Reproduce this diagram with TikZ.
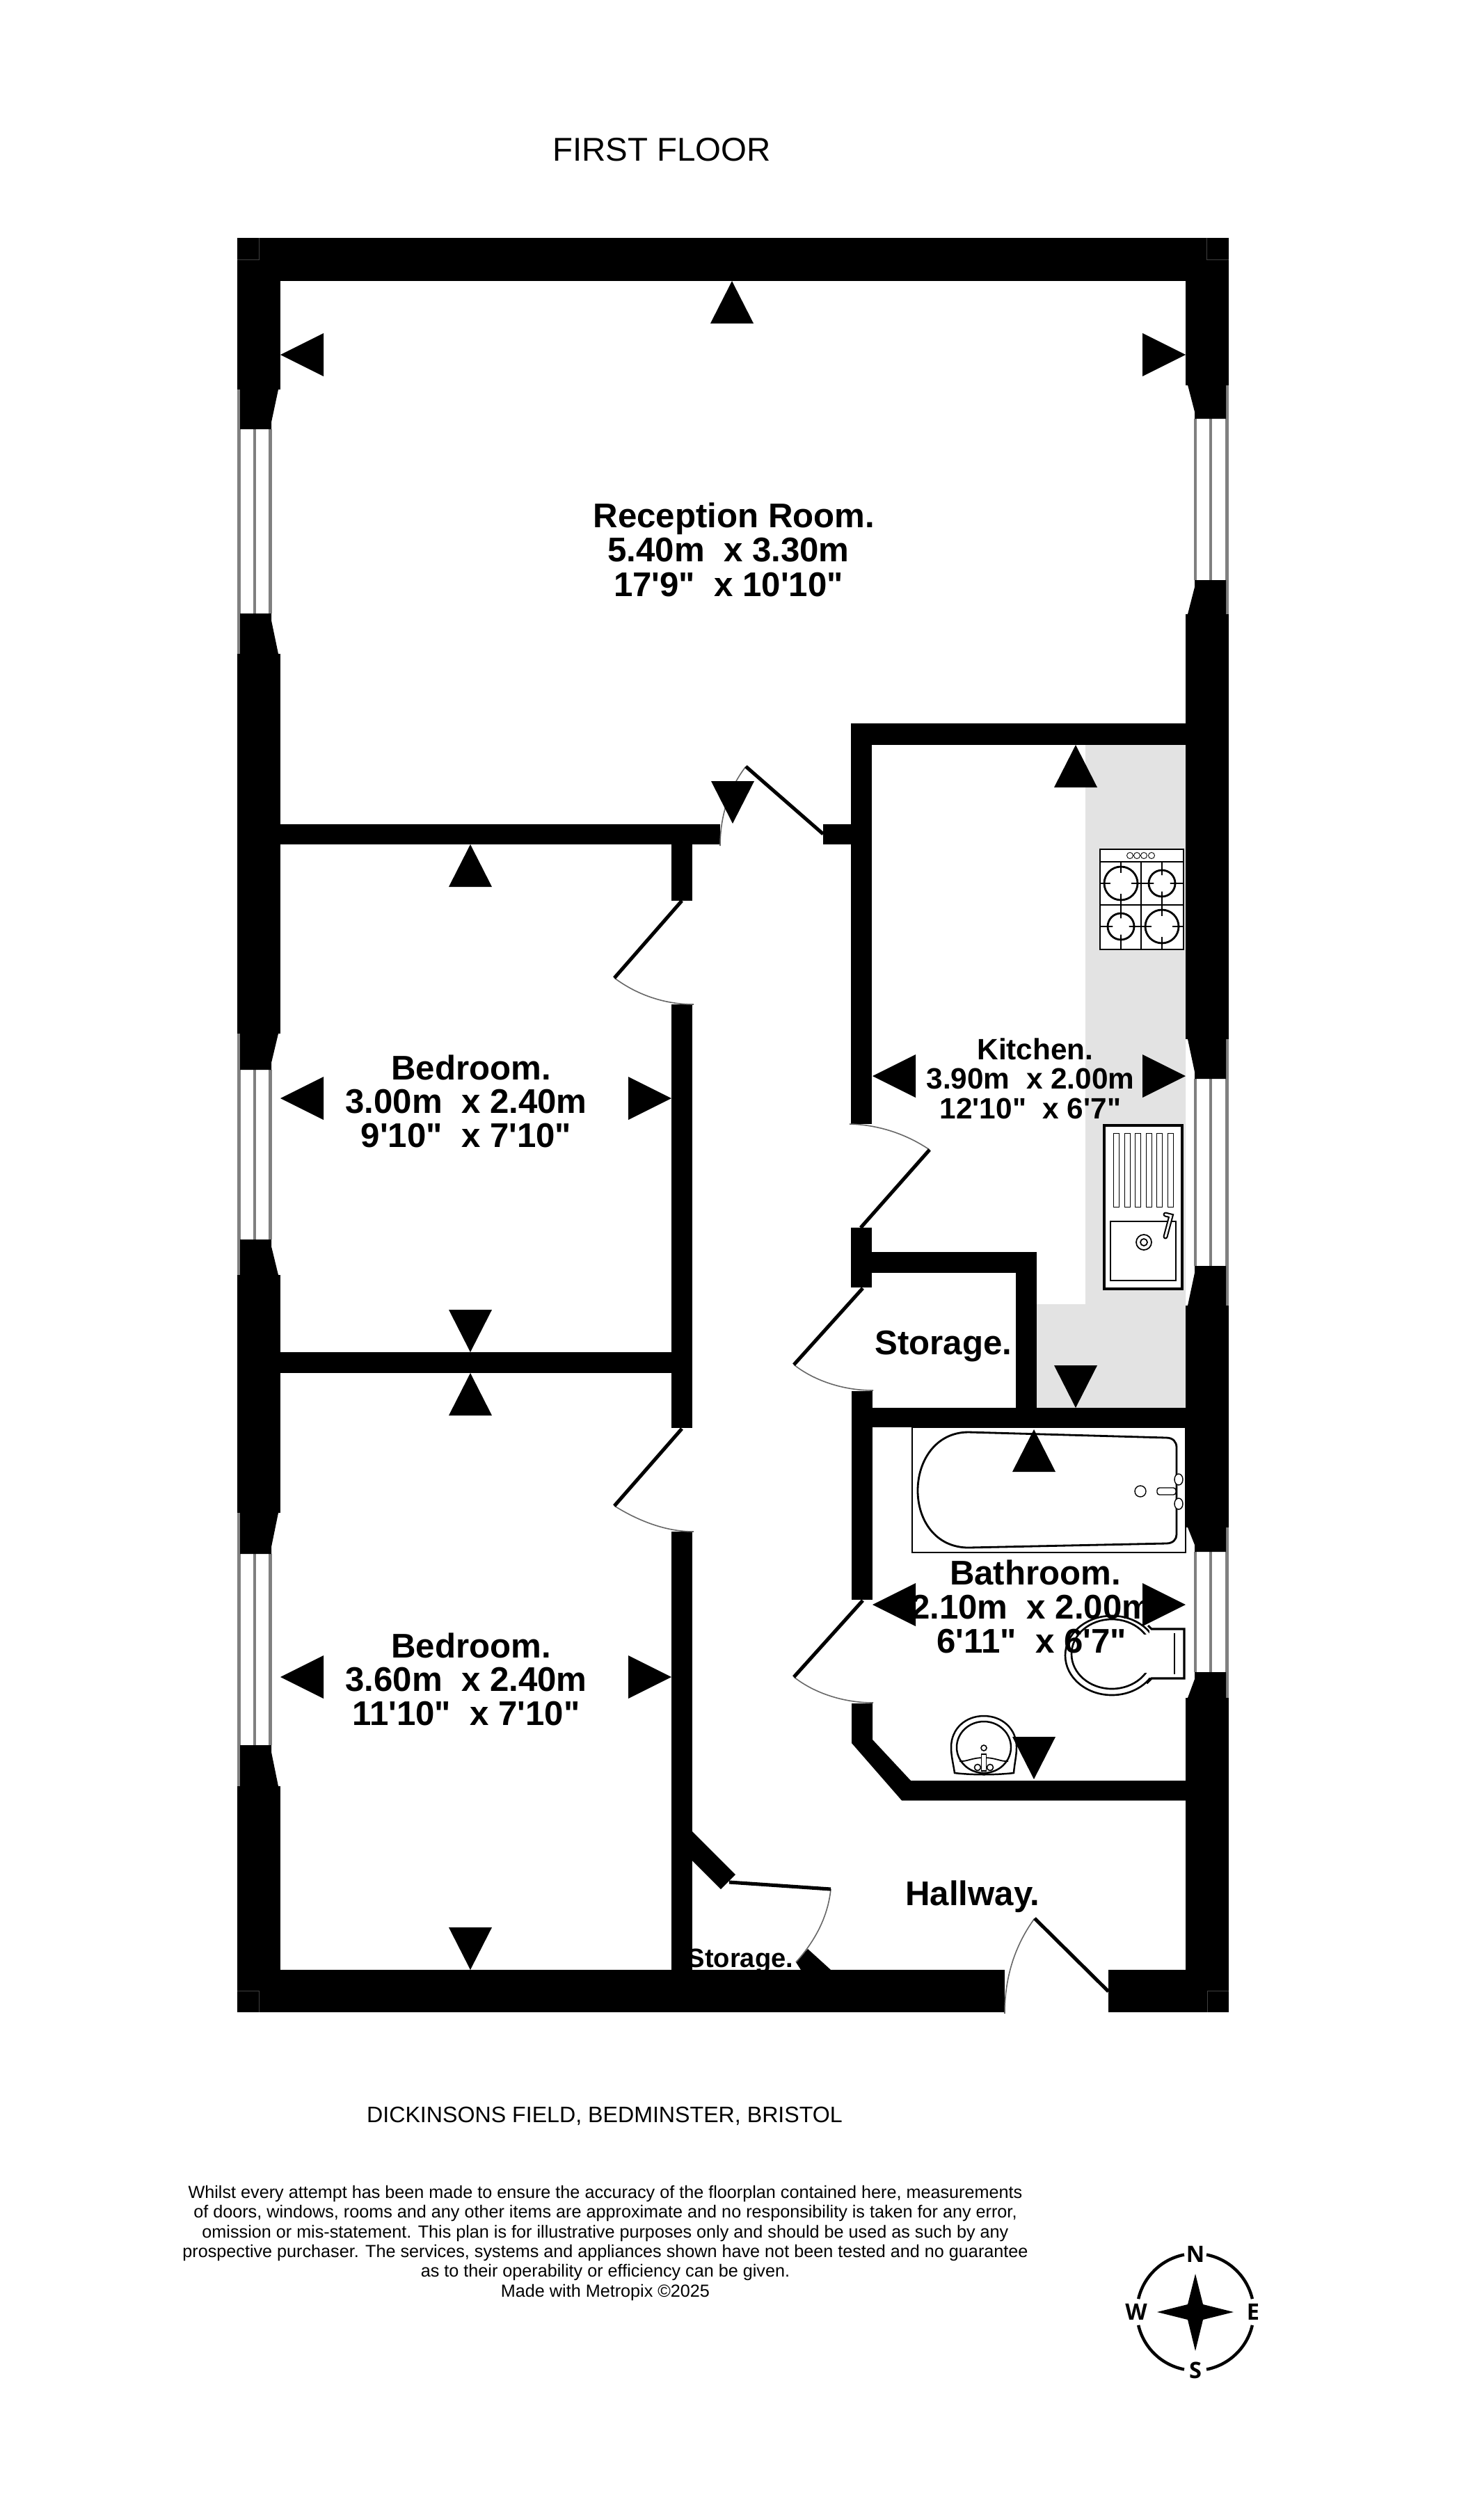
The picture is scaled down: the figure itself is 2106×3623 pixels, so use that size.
\documentclass[tikz,border=0pt]{standalone}
\usepackage{fontspec}
\newfontfamily\lab{Liberation Sans}
\newfontfamily\cmp{Open Sans}
\newcommand\fsz[2]{\fontsize{#1pt}{#2pt}\selectfont}
\definecolor{counter}{HTML}{E3E3E3}
\definecolor{glass}{HTML}{808080}
\tikzset{
  wallfill/.style={fill=black,draw=none},
  leaf/.style={draw=black,line width=2.9pt},
  swing/.style={draw=black!60,line width=0.9pt},
  pane/.style={draw=glass,line width=2.8pt},
  fix/.style={draw=black,line width=1.4pt,fill=white},
  fixthin/.style={draw=black,line width=0.9pt},
  room/.style={inner sep=0pt,align=center,anchor=north,font=\lab\bfseries}
}
\newcommand\wleft[4]{%
  \draw[pane] (343.5,#1) -- (343.5,#4);
  \draw[pane] (366,#2) -- (366,#3);
  \draw[pane] (388.5,#2) -- (388.5,#3);
  \fill[wallfill] (345,#1) -- (400,#1) -- (390,#2-10) -- (390,#2) -- (345,#2) -- cycle;
  \fill[wallfill] (345,#3) -- (390,#3) -- (390,#3+10) -- (400,#4) -- (345,#4) -- cycle;
}
\newcommand\wright[4]{%
  \draw[pane] (1763.5,#1) -- (1763.5,#4);
  \draw[pane] (1740,#2) -- (1740,#3);
  \draw[pane] (1718,#2) -- (1718,#3);
  \fill[wallfill] (1707,#1) -- (1762,#1) -- (1762,#2) -- (1717,#2) -- (1717,#2-10) -- cycle;
  \fill[wallfill] (1717,#3) -- (1762,#3) -- (1762,#4) -- (1707,#4) -- (1717,#3+10) -- cycle;
}
% triangles: tip x, tip y
\newcommand\tleft[2]{\fill[wallfill] (#1,#2) -- (#1+62,#2-31) -- (#1+62,#2+31) -- cycle;}
\newcommand\tright[2]{\fill[wallfill] (#1,#2) -- (#1-62,#2-31) -- (#1-62,#2+31) -- cycle;}
\newcommand\tup[2]{\fill[wallfill] (#1,#2) -- (#1-31,#2+61) -- (#1+31,#2+61) -- cycle;}
\newcommand\tdown[2]{\fill[wallfill] (#1,#2) -- (#1-31,#2-61) -- (#1+31,#2-61) -- cycle;}
\newcommand\burner[3]{%
  \draw[fixthin] (#1-#3-5,#2) -- (#1+#3+5,#2) (#1,#2-#3-5) -- (#1,#2+#3+5);
  \fill[white] (#1,#2) ellipse[x radius=#3*0.62,y radius=#3*0.62];
  \draw[line width=1.6pt] (#1,#2) ellipse[x radius=#3,y radius=#3];
}
\begin{document}
\begin{tikzpicture}[x=0.02cm,y=-0.02cm]
\useasboundingbox (0,0) rectangle (2106,3623);
\fill[white] (0,0) rectangle (2106,3623);

% kitchen counter
\fill[counter] (1560,1071) -- (1704,1071) -- (1704,2024) -- (1490,2024) -- (1490,1875) -- (1560,1875) -- cycle;

% hob
\draw[fix] (1581,1221) rectangle (1701,1365);
\draw[fixthin] (1581,1239) -- (1701,1239) (1640,1239) -- (1640,1365) (1581,1301) -- (1701,1301);
\draw[fixthin] (1611,1239) -- (1611,1365) (1670,1239) -- (1670,1365) (1581,1270) -- (1701,1270) (1581,1332) -- (1701,1332);
\burner{1611}{1270}{24}
\burner{1670}{1270}{19}
\burner{1611}{1332}{19}
\burner{1670}{1332}{24}
\foreach \k in {1624,1634,1644,1655} \draw[line width=0.5pt] (\k,1230) ellipse[x radius=4.5,y radius=4.5];

% kitchen sink
\draw[draw=black,line width=2pt,fill=white] (1587,1618) rectangle (1699,1853);
\foreach \k in {1600,1616,1631,1647,1662,1678} \draw[line width=0.5pt] (\k,1629) rectangle (\k+8,1735);
\draw[line width=1pt] (1596,1756) rectangle (1690,1841);
\draw[line width=1pt] (1644,1786) ellipse[x radius=11,y radius=11];
\draw[line width=1pt] (1644,1786) ellipse[x radius=5,y radius=5];
\draw[line width=4pt,line cap=round] (1675,1778) -- (1683,1748) -- (1675,1746);
\draw[white,line width=1.6pt,line cap=round] (1675,1778) -- (1683,1748) -- (1675,1746);

% bath
\draw[line width=0.8pt,draw=black] (1311,2052) rectangle (1704,2232);
\draw[line width=1.6pt,fill=white] (1392,2059) .. controls (1345,2059) and (1319,2100) .. (1319,2143) .. controls (1319,2186) and (1345,2225) .. (1392,2225) -- (1676,2219) .. controls (1686,2219) and (1691,2213) .. (1691,2206) -- (1691,2081) .. controls (1691,2073) and (1686,2067) .. (1676,2067) -- cycle;
\draw[line width=0.8pt] (1639,2144) ellipse[x radius=8,y radius=8];
\draw[line width=0.8pt,fill=white,rounded corners=2pt] (1663,2139) -- (1690,2139) -- (1690,2149) -- (1663,2149) -- cycle;
\draw[line width=0.8pt,fill=white] (1694,2127) ellipse[x radius=6,y radius=8];
\draw[line width=0.8pt,fill=white] (1694,2162) ellipse[x radius=6,y radius=8];

% toilet
\draw[line width=1.5pt,fill=white] (1598,2380) ellipse[x radius=67,y radius=57];
\draw[line width=1.5pt] (1598,2378) ellipse[x radius=58,y radius=50];
\fill[white] (1652,2343) rectangle (1701,2412);
\fill[white] (1640,2350) rectangle (1660,2405);
\draw[line width=1.8pt] (1650,2337) -- (1655,2342) -- (1702,2342) -- (1702,2413) -- (1655,2413) -- (1648,2420);
\draw[line width=1.5pt] (1688,2348) -- (1688,2407);

% washbasin
\draw[line width=1.4pt,fill=white] (1372,2549) .. controls (1370,2535) and (1367,2525) .. (1367,2512) .. controls (1367,2485) and (1388,2467) .. (1414,2467) .. controls (1440,2467) and (1461,2485) .. (1461,2512) .. controls (1461,2525) and (1458,2535) .. (1457,2549) .. controls (1430,2552) and (1398,2552) .. cycle;
\draw[line width=1.4pt] (1414,2512) ellipse[x radius=39,y radius=37];
\draw[line width=1pt] (1379,2532) .. controls (1390,2533) and (1396,2527) .. (1414,2527) .. controls (1432,2527) and (1438,2533) .. (1449,2532);
\draw[line width=0.9pt,fill=white] (1414,2513) ellipse[x radius=4,y radius=4];
\draw[line width=0.9pt,fill=white] (1405,2541) ellipse[x radius=4.5,y radius=4.5];
\draw[line width=0.9pt,fill=white] (1423,2541) ellipse[x radius=4.5,y radius=4.5];
\draw[line width=0.9pt,fill=white] (1410.5,2522) rectangle (1417.5,2546);

% cupboard label (its foot runs under the wall)
\node[inner sep=0pt,anchor=base,font=\lab\bfseries\fsz{21.7}{21.7}] (closetlabel) at (1064,2828) {Storage.};

% outer walls
\fill[wallfill] (341,342) rectangle (1766,404);
\fill[wallfill] (341,342) rectangle (403,560);
\fill[wallfill] (341,940) rectangle (403,1486);
\fill[wallfill] (341,1833) rectangle (403,2175);
\fill[wallfill] (341,2568) rectangle (403,2893);
\fill[wallfill] (1704,342) rectangle (1766,553.5);
\fill[wallfill] (1704,883) rectangle (1766,1494);
\fill[wallfill] (1704,1877) rectangle (1766,2196);
\fill[wallfill] (1704,2441) rectangle (1766,2893);
\fill[wallfill] (341,2832) rectangle (1444,2893);
\fill[wallfill] (1593,2832) rectangle (1766,2893);

% corner hairlines
\draw[black!75,line width=0.4pt] (341,373) -- (372,373) -- (372,342);
\draw[black!75,line width=0.4pt] (1766,373) -- (1734,373) -- (1734,342);
\draw[black!75,line width=0.4pt] (341,2862) -- (372,2862) -- (372,2893);
\draw[black!75,line width=0.4pt] (1766,2862) -- (1735,2862) -- (1735,2893);

% windows
\wleft{560}{617}{882}{940}
\wleft{1486}{1538}{1782}{1833}
\wleft{2175}{2234}{2509}{2568}
\wright{553.5}{602}{834}{883}
\wright{1494}{1551}{1820}{1877}
\wright{2196}{2231}{2404}{2441}

% inner walls
\fill[wallfill] (403,1185) rectangle (1035,1214);
\fill[wallfill] (1183,1185) rectangle (1253,1214);
\fill[wallfill] (965,1214) rectangle (995,1295);
\fill[wallfill] (965,1444) rectangle (995,2053);
\fill[wallfill] (965,2202) rectangle (995,2832);
\fill[wallfill] (403,1944) rectangle (995,1974);
\fill[wallfill] (1223,1040) rectangle (1704,1071);
\fill[wallfill] (1223,1040) rectangle (1253,1616);
\fill[wallfill] (1223,1765) rectangle (1253,1851);
\fill[wallfill] (1253,1800) rectangle (1490,1830);
\fill[wallfill] (1460,1800) rectangle (1490,2024);
\fill[wallfill] (1224,2000) rectangle (1254,2052);
\fill[wallfill] (1224,2024) rectangle (1704,2052);
\fill[wallfill] (1224,2052) rectangle (1254,2300);
\fill[wallfill] (1224,2449) -- (1254,2449) -- (1254,2501) -- (1309,2560) -- (1704,2560) -- (1704,2588.5) -- (1296,2588.5) -- (1224,2506) -- cycle;
\fill[wallfill] (995,2633) -- (1057,2695) -- (1036,2716) -- (995,2675) -- cycle;
\fill[wallfill] (1161,2802) -- (1194,2832) -- (1151,2832) -- (1144,2821) -- cycle;

% door swings
\draw[swing] (1035,1216) .. controls (1035,1170) and (1050,1130) .. (1072,1102);
\draw[swing] (883,1406) .. controls (915,1430) and (955,1444) .. (997,1444);
\draw[swing] (883,2165) .. controls (915,2185) and (955,2202) .. (997,2202);
\draw[swing] (1221,1616) .. controls (1262,1617) and (1302,1630) .. (1336,1653);
\draw[swing] (1141,1962) .. controls (1170,1985) and (1212,1999) .. (1255,1999);
\draw[swing] (1141,2411) .. controls (1170,2434) and (1212,2448) .. (1255,2448);
\draw[swing] (1194,2716) .. controls (1190,2755) and (1172,2790) .. (1144,2821);
\draw[swing] (1444,2895) .. controls (1444,2840) and (1460,2795) .. (1487,2758);

% door leaves
\draw[leaf] (1072,1102) -- (1183,1199);
\draw[leaf] (980,1295) -- (883,1406);
\draw[leaf] (980,2054) -- (883,2165);
\draw[leaf] (1336,1653) -- (1237,1765);
\draw[leaf] (1240,1852) -- (1141,1962);
\draw[leaf] (1240,2301) -- (1141,2411);
\draw[leaf] (1048,2706) -- (1194,2716);
\draw[leaf] (1593,2863) -- (1487,2758);

% labels
\node[room,font=\lab\bfseries\fsz{28}{28.2}] (reception) at (1055,722) {Reception Room.\\5.40m~ x 3.30m\kern9pt\\17'9"~ x 10'10"\kern9pt};
\node[room,font=\lab\bfseries\fsz{28}{27.7}] (bed1) at (677,1516) {Bedroom.\\3.00m~ x 2.40m\kern8pt\\9'10"~ x 7'10"\kern8pt};
\node[room,font=\lab\bfseries\fsz{28}{27.7}] (bed2) at (677,2347) {Bedroom.\\3.60m~ x 2.40m\kern8pt\\11'10"~ x 7'10"\kern8pt};
\node[room,font=\lab\bfseries\fsz{24.1}{24.2}] (kitchen) at (1488,1492) {Kitchen.\\3.90m~ x 2.00m\kern8pt\\12'10"~ x 6'7"\kern8pt};
\node[room,font=\lab\bfseries\fsz{28}{28}] (bathroom) at (1488,2242) {Bathroom.\\2.10m~ x 2.00m\kern6pt\\6'11"~ x 6'7"\kern6pt};
\node[room,font=\lab\bfseries\fsz{28}{27.7},anchor=base] (storage) at (1356,1947) {Storage.};
\node[room,font=\lab\bfseries\fsz{28}{27.7},anchor=base] (hallway) at (1398,2739) {Hallway.};

% dimension arrowheads
\tup{1052}{404}
\tleft{403}{510}
\tright{1704}{510}
\tdown{1053}{1184}
\tup{676}{1214}
\tleft{403}{1579}
\tright{965}{1579}
\tdown{676}{1944}
\tup{676}{1974}
\tleft{403}{2411}
\tright{965}{2411}
\tdown{676}{2832}
\tup{1546}{1071}
\tleft{1254}{1547}
\tright{1704}{1547}
\tdown{1546}{2024}
\tup{1486}{2055}
\tleft{1254}{2307}
\tright{1704}{2307}
\tdown{1486}{2558}

% titles
\node[inner sep=0pt,anchor=base,font=\lab\fsz{27}{27}] (title) at (951,232) {FIRST FLOOR};
\node[inner sep=0pt,anchor=base,font=\lab\fsz{18.3}{18.3}] (address) at (869,3051) {DICKINSONS FIELD, BEDMINSTER, BRISTOL};
\node[inner sep=0pt,anchor=north,align=center,font=\lab\fsz{14.34}{16.1}] (disclaimer) at (870,3142) {Whilst every attempt has been made to ensure the accuracy of the floorplan contained here, measurements\\of doors, windows, rooms and any other items are approximate and no responsibility is taken for any error,\\omission or mis-statement. This plan is for illustrative purposes only and should be used as such by any\\prospective purchaser. The services, systems and appliances shown have not been tested and no guarantee\\as to their operability or efficiency can be given.\\Made with Metropix ©2025};

% compass
\foreach \a/\b in {13/79,101/167,193/259,281/347}
  \draw[line width=2.5pt] ([shift={(\a:84)}]1718,3324) arc (\a:\b:84);
\fill[wallfill] (1718,3269) -- (1729,3313) -- (1773,3324) -- (1729,3335) -- (1718,3380) -- (1707,3335) -- (1663,3324) -- (1707,3313) -- cycle;
\node[inner sep=0pt,font=\cmp\bfseries\fsz{18.5}{18.5}] (north) at (1718,3241) {N};
\node[inner sep=0pt,font=\cmp\bfseries\fsz{18.5}{18.5}] (south) at (1718,3408) {S};
\node[inner sep=0pt,font=\cmp\bfseries\fsz{18.5}{18.5}] (west) at (1633,3324) {W};
\node[inner sep=0pt,font=\cmp\bfseries\fsz{18.5}{18.5}] (east) at (1801,3324) {E};
\end{tikzpicture}
\end{document}
